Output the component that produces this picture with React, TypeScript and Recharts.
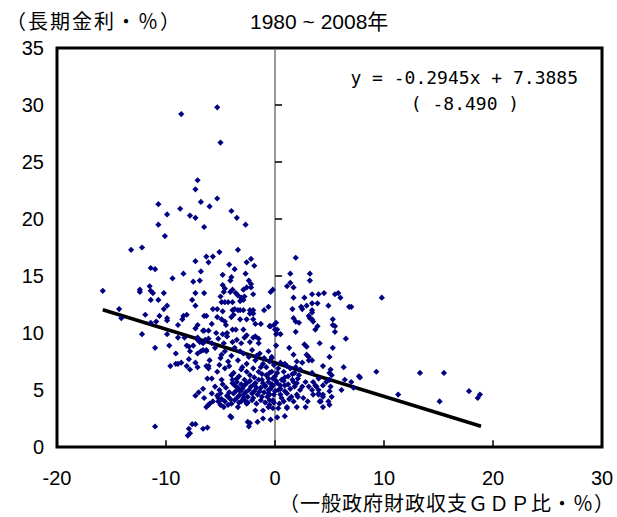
import {
  ReferenceArea,
  ReferenceLine,
  Scatter,
  ScatterChart,
  XAxis,
  YAxis,
  ZAxis,
} from "recharts";

// 1980～2008年, 長期金利 vs 一般政府財政収支GDP比
const xTicks = [-20, -10, 0, 10, 20, 30];
const yTicks = [0, 5, 10, 15, 20, 25, 30, 35];

// regression: y = -0.2945x + 7.3885 (t = -8.490)
const slope = -0.2945;
const intercept = 7.3885;
const fitRange = [-15.8, 18.9];

const highRates = [
  [-8.6, 29.2], [-5.3, 29.8], [-5.0, 26.7], [-7.1, 23.4], [-7.3, 22.6],
  [-10.7, 21.3], [-5.3, 21.8], [-6.8, 21.5], [-6.0, 21.1], [-8.7, 20.9],
  [-9.9, 20.4], [-4.0, 20.7], [-7.8, 20.3], [-7.3, 20.1], [-3.5, 20.1],
  [-10.7, 19.5], [-6.5, 19.3], [-2.7, 19.5], [-10.1, 18.5],
];

const leftDeficit = [
  [-13.2, 17.3], [-12.2, 17.5], [-6.3, 16.7], [-6.1, 16.2], [-7.3, 16.3],
  [-11.4, 15.7], [-11.0, 15.6], [-8.4, 15.2], [-6.8, 15.4], [-9.4, 14.8],
  [-6.9, 14.6], [-7.5, 14.5], [-11.5, 14.1], [-15.8, 13.7], [-12.4, 13.8],
  [-12.4, 13.6], [-11.4, 13.7], [-11.2, 13.5], [-10.2, 13.5], [-7.3, 13.5],
  [-6.5, 13.5], [-11.4, 12.9], [-10.7, 12.9], [-7.6, 12.9], [-7.3, 12.4],
  [-9.9, 12.4], [-10.2, 12.1], [-14.3, 12.1], [-14.1, 11.3], [-11.9, 11.6],
  [-10.6, 11.5], [-9.9, 11.3], [-9.9, 11.1], [-10.9, 11.0], [-8.4, 11.5],
  [-8.1, 11.6], [-8.5, 11.2], [-8.9, 10.7], [-6.5, 11.5], [-6.3, 11.5],
  [-7.1, 10.7], [-7.3, 10.4], [-6.6, 10.2], [-6.1, 10.2], [-12.2, 9.9],
  [-9.9, 9.9], [-8.9, 9.6], [-8.3, 9.6], [-7.1, 9.6], [-11.4, 10.9],
  [-11.0, 8.7], [-9.7, 8.9], [-8.1, 8.9], [-7.9, 8.8], [-7.5, 8.9],
  [-7.1, 9.4], [-6.9, 9.2], [-6.6, 9.1], [-6.4, 9.4], [-7.8, 8.4],
  [-9.1, 8.2], [-7.1, 8.2], [-6.8, 8.4], [-6.6, 8.5], [-6.3, 8.4],
  [-7.9, 7.7], [-9.6, 7.1], [-9.1, 7.3], [-8.9, 7.3], [-8.6, 7.4],
  [-8.1, 7.1], [-7.8, 6.8], [-7.3, 7.4], [-7.1, 7.0], [-6.3, 7.1],
  [-6.1, 7.1], [-6.2, 6.0], [-6.6, 5.1], [-7.0, 4.8], [-7.3, 4.5],
  [-6.5, 4.3], [-6.1, 3.7], [-11.0, 1.8], [-7.6, 2.0], [-7.3, 2.0],
  [-7.9, 1.6], [-7.8, 1.2], [-6.6, 1.6], [-6.2, 1.7], [-8.0, 1.0],
];

const midDeficit = [
  [-3.4, 17.3], [-5.1, 17.1], [-5.7, 16.7], [-2.6, 16.2], [-2.2, 16.5],
  [-4.2, 16.0], [-1.9, 15.9], [-3.7, 15.6], [-4.8, 15.1], [-2.7, 15.2],
  [-4.0, 14.9], [-4.1, 14.6], [-2.4, 14.6], [-2.2, 14.3], [-4.8, 14.2],
  [-4.7, 13.6], [-4.6, 13.9], [-4.1, 13.6], [-3.9, 13.8], [-3.6, 13.5],
  [-3.4, 13.3], [-2.9, 13.8], [-2.6, 14.0], [-2.2, 14.0], [-2.0, 13.4],
  [-3.1, 13.1], [-2.8, 13.2], [-3.2, 12.8], [-2.9, 12.9], [-5.0, 13.2],
  [-4.9, 12.7], [-4.6, 12.7], [-4.3, 12.7], [-3.9, 12.7], [-5.7, 12.1],
  [-5.3, 12.1], [-4.8, 11.9], [-3.9, 12.0], [-3.7, 12.1], [-3.4, 12.0],
  [-3.2, 12.0], [-2.9, 12.0], [-2.3, 12.0], [-2.0, 12.0], [-2.0, 11.7],
  [-2.3, 11.7], [-5.3, 11.4], [-4.9, 11.2], [-4.6, 11.0], [-4.0, 11.4],
  [-3.8, 11.6], [-3.2, 11.2], [-2.6, 11.2], [-2.0, 11.2], [-5.8, 10.8],
  [-4.5, 10.7], [-1.0, 12.0], [-0.6, 12.3], [-0.2, 13.8], [-0.4, 13.6],
  [-1.8, 10.8], [-1.3, 10.8], [-0.5, 10.6], [-3.9, 10.3], [-3.6, 10.3],
  [-2.9, 10.3], [-5.4, 10.0], [-4.8, 9.9], [-4.4, 10.0], [-6.5, 10.2],
  [-2.6, 9.8], [-2.0, 9.6], [-1.5, 9.5], [0.0, 10.3],
  [-6.1, 9.5], [-5.2, 9.5], [-4.4, 9.7], [-3.5, 9.4], [-2.8, 9.6],
  [-1.8, 9.7], [-5.8, 9.1], [-4.7, 9.1], [-3.9, 9.2], [-3.1, 9.1],
  [-2.3, 9.2], [-1.5, 9.1], [-6.3, 8.5], [-5.5, 8.7], [-4.6, 8.4],
  [-3.7, 8.7], [-2.9, 8.2], [-2.1, 8.5], [-1.4, 8.2], [-0.6, 8.4],
  [-0.3, 7.9], [-6.0, 7.6], [-5.0, 7.8], [-4.3, 7.5], [-3.4, 7.6],
  [-2.6, 7.3], [-1.8, 7.6], [-1.1, 7.3], [-0.5, 7.5], [-6.1, 6.9],
  [-5.3, 6.6], [-4.6, 6.9], [-3.8, 6.5], [-3.1, 6.8], [-2.3, 6.3],
  [-1.5, 6.6], [-0.8, 6.3], [-0.2, 6.0], [-5.8, 6.0], [-4.9, 5.9],
  [-2.8, 5.9], [-1.2, 5.9], [-3.5, 6.0],
];

const denseBand = [
  [-4.3, 4.4], [-3.8, 4.7], [-3.5, 4.3], [-3.2, 4.9], [-2.9, 4.6],
  [-2.8, 4.1], [-2.4, 5.0], [-2.1, 4.7], [-2.0, 4.3], [-1.7, 5.2],
  [-1.4, 4.9], [-1.2, 4.4], [-0.9, 5.3], [-0.6, 5.0], [-0.5, 4.6],
  [-0.2, 5.4], [0.0, 4.9], [-3.4, 5.2], [-4.6, 4.0], [-5.2, 4.3],
  [-3.7, 5.4], [-2.8, 5.4], [-1.8, 5.6], [-4.0, 3.8], [-3.1, 4.0],
  [-6.0, 3.8], [-5.0, 3.7], [-3.4, 3.5], [-2.6, 3.8], [-1.8, 3.2],
  [-1.1, 3.2], [-0.6, 3.5], [-0.2, 3.4], [-5.7, 4.0], [-5.2, 4.0],
  [-6.3, 3.5], [-4.7, 3.5], [-4.3, 3.7], [-5.8, 4.7], [-5.0, 4.7],
  [-4.0, 2.6], [-2.4, 1.8], [-2.3, 2.1], [-1.1, 2.5], [-0.4, 2.4],
  [-4.1, 2.7], [-2.5, 2.2], [-1.6, 2.2],
  [-0.8, 7.0], [-0.3, 6.6], [0.3, 6.9], [0.8, 6.6], [1.4, 6.9],
  [1.8, 6.5], [2.3, 6.8], [-0.6, 6.0], [0.0, 6.2], [0.6, 5.9],
  [1.2, 6.2], [1.7, 5.7], [2.1, 6.0], [2.8, 5.7], [-0.9, 5.4],
  [-0.3, 5.3], [0.2, 5.6], [0.5, 5.1], [0.9, 5.4], [1.4, 5.1],
  [1.8, 5.3], [2.3, 5.0], [-0.6, 4.7], [0.5, 4.6], [1.1, 4.7],
  [1.5, 4.4], [2.0, 4.6], [2.6, 4.3], [-0.2, 4.1], [0.8, 4.0],
  [1.1, 3.5], [0.3, 3.4], [-0.5, 4.1],
];

const denseCore = [
  [-4.5, 5.2], [-4.2, 4.8], [-3.9, 5.6], [-3.6, 4.9], [-3.3, 4.5],
  [-3.0, 5.1], [-2.7, 4.8], [-2.5, 4.4], [-2.2, 5.3], [-1.9, 4.9],
  [-1.6, 4.6], [-1.3, 5.2], [-1.0, 4.8], [-0.7, 4.4], [-0.4, 5.1],
  [-0.1, 4.6], [0.3, 5.0], [0.6, 4.3], [0.9, 4.9], [1.3, 4.2],
  [-4.4, 4.5], [-4.1, 4.2], [-3.7, 4.1], [-3.3, 3.9], [-2.9, 4.3],
  [-2.5, 3.9], [-2.1, 4.1], [-1.7, 3.8], [-1.3, 4.1], [-0.9, 3.9],
  [-0.5, 3.7], [-0.1, 3.9], [0.4, 3.8], [-3.9, 5.9], [-3.5, 5.7],
  [-3.1, 5.5], [-2.6, 5.6], [-2.3, 5.8], [-1.9, 5.5], [-1.5, 5.9],
  [-1.1, 5.6], [-0.6, 5.7], [-0.3, 5.5], [0.1, 5.8], [0.5, 5.4],
  [0.8, 5.8], [1.2, 5.5], [1.6, 5.9], [2.0, 5.6], [2.5, 5.3],
  [-5.5, 5.3], [-5.1, 5.0], [-4.8, 5.5], [-5.3, 4.5], [-4.9, 4.2],
  [-4.0, 6.3], [-3.3, 6.2], [-2.6, 6.6], [-1.9, 6.1], [-1.2, 6.4],
  [-0.5, 6.5], [0.2, 6.5], [0.9, 6.1], [1.6, 6.4], [2.2, 6.3],
  [-5.1, 7.2], [-4.2, 7.1], [-3.0, 7.0], [-2.0, 6.9], [-1.3, 7.0],
  [-0.1, 7.2], [1.1, 7.1], [1.9, 7.0], [-4.9, 8.1], [-4.0, 8.0],
  [-3.2, 8.4], [-2.4, 7.9], [-1.7, 8.0], [-1.0, 7.8],
];

const surplus = [
  [1.9, 16.6], [1.4, 15.2], [3.2, 15.2], [3.2, 14.6], [1.1, 14.1],
  [1.4, 14.4], [1.7, 14.0], [3.4, 13.4], [4.0, 13.4], [4.5, 13.5],
  [5.5, 13.4], [5.8, 13.5], [6.0, 13.1], [9.8, 13.1], [1.7, 13.1],
  [2.7, 13.1], [3.4, 12.6], [3.9, 12.6], [2.9, 12.4], [2.4, 12.3],
  [2.5, 12.1], [1.6, 12.1], [4.9, 12.4], [6.8, 12.3], [7.0, 12.3],
  [3.4, 12.0], [3.4, 11.8], [3.1, 11.5], [3.2, 11.3], [3.4, 11.2],
  [3.5, 11.0], [1.7, 11.3], [1.9, 11.0], [2.2, 10.9], [5.3, 11.2],
  [5.3, 10.7], [5.5, 10.6], [3.7, 10.3], [3.9, 10.6], [5.5, 10.1],
  [1.9, 10.1], [6.5, 9.5], [-0.1, 10.7], [-0.4, 10.6], [0.1, 10.9],
  [0.2, 10.3], [0.1, 9.9], [0.5, 9.9],
  [2.7, 9.0], [4.1, 9.1], [1.3, 8.7], [0.1, 8.9], [1.7, 8.1],
  [2.9, 8.1], [3.1, 7.9], [3.4, 7.6], [5.0, 7.9], [2.5, 7.4],
  [4.4, 7.1], [6.3, 7.0], [5.1, 6.8], [5.0, 6.5], [7.7, 6.2],
  [0.5, 7.4], [0.9, 7.3], [-0.3, 7.8], [6.4, 5.9], [7.0, 5.7],
  [5.1, 5.3], [6.1, 5.0], [5.2, 4.4], [5.0, 3.7], [4.0, 4.7],
  [4.4, 4.6], [4.2, 4.0], [3.5, 5.7], [3.8, 5.3], [3.4, 5.0],
  [3.0, 4.0], [2.8, 3.5], [2.1, 4.4], [1.1, 3.4], [0.9, 2.7],
  [0.2, 2.6], [1.7, 4.0], [2.0, 3.5], [2.9, 8.8], [5.3, 8.7],
  [3.1, 7.6], [2.0, 7.5], [3.7, 5.4], [4.0, 5.0], [3.5, 4.6],
  [4.0, 4.6], [4.4, 4.4], [3.1, 5.3], [4.4, 5.4], [4.7, 5.7],
  [5.0, 4.9], [4.1, 4.0], [4.9, 4.0], [4.4, 3.5], [5.0, 5.9],
  [5.2, 6.3], [4.0, 6.0], [3.4, 6.5],
  [7.8, 6.1], [9.3, 6.6], [13.3, 6.5], [15.5, 6.5], [7.2, 5.2],
  [11.3, 4.6], [15.1, 4.0], [17.8, 4.9], [18.8, 4.6], [18.6, 4.3],
];

const points = [
  ...highRates,
  ...leftDeficit,
  ...midDeficit,
  ...denseBand,
  ...denseCore,
  ...surplus,
].map(([x, y]) => ({ x, y }));

const Diamond = (props: any) => {
  const { cx, cy } = props;
  const r = 3.1;
  return (
    <path
      d={`M${cx},${cy - r}L${cx + r},${cy}L${cx},${cy + r}L${cx - r},${cy}Z`}
      fill="#000080"
    />
  );
};

const sans = "'Liberation Sans', Arial, sans-serif";
const jp = "'Noto Sans CJK JP', sans-serif";

export default function App() {
  return (
    <div style={{ position: "absolute", left: 0, top: 0, width: 617, height: 517, background: "#fff" }}>
      <ScatterChart
        width={617}
        height={517}
        margin={{ top: 48, right: 15, bottom: 30, left: 7 }}
      >
        <XAxis
          type="number"
          dataKey="x"
          domain={[-20, 30]}
          ticks={xTicks}
          axisLine={false}
          tickLine={false}
          tickSize={6}
          tickMargin={18}
          height={40}
          tick={{ fontSize: 20, fill: "#000", fontFamily: sans }}
        />
        <YAxis
          type="number"
          dataKey="y"
          domain={[0, 35]}
          ticks={yTicks}
          axisLine={false}
          tickLine={false}
          tickSize={6}
          tickMargin={7}
          width={50}
          tick={{ fontSize: 20, fill: "#000", fontFamily: sans }}
        />
        <ZAxis range={[30, 30]} />
        <ReferenceLine x={0} stroke="#333" strokeWidth={1} />
        {yTicks.slice(1, -1).map((t) => (
          <ReferenceLine
            key={`yt-${t}`}
            segment={[{ x: 0, y: t }, { x: 0.65, y: t }]}
            stroke="#000"
            strokeWidth={1.5}
          />
        ))}
        {xTicks.slice(1, -1).map((t) => (
          <ReferenceLine
            key={`xt-${t}`}
            segment={[{ x: t, y: 0 }, { x: t, y: 0.6 }]}
            stroke="#000"
            strokeWidth={1.5}
          />
        ))}
        <Scatter data={points} shape={Diamond} isAnimationActive={false} />
        <ReferenceLine
          segment={[
            { x: fitRange[0], y: intercept + slope * fitRange[0] },
            { x: fitRange[1], y: intercept + slope * fitRange[1] },
          ]}
          stroke="#000"
          strokeWidth={3.5}
        />
        <ReferenceArea
          x1={-20}
          x2={30}
          y1={0}
          y2={35}
          fill="none"
          fillOpacity={0}
          stroke="#000"
          strokeWidth={3}
        />
      </ScatterChart>
      <svg
        width={617}
        height={517}
        style={{ position: "absolute", left: 0, top: 0, pointerEvents: "none" }}
      >
        <text x={6} y={29} fontSize={20} letterSpacing={2} fontFamily={jp} fill="#000">
          （長期金利・％）
        </text>
        <text x={250} y={29} fontSize={21} fontFamily={`${sans}, ${jp}`} fill="#000">
          1980 ~ 2008年
        </text>
        <text
          x={578}
          y={84}
          textAnchor="end"
          fontSize={18}
          fontFamily="'DejaVu Sans Mono', monospace"
          fill="#000"
        >
          y = -0.2945x + 7.3885
        </text>
        <text
          x={465}
          y={110}
          textAnchor="middle"
          fontSize={18}
          fontFamily="'DejaVu Sans Mono', monospace"
          fill="#000"
          style={{ whiteSpace: "pre" }}
        >
          {"( -8.490 )"}
        </text>
        <text
          x={615}
          y={511}
          textAnchor="end"
          fontSize={20}
          letterSpacing={1}
          fontFamily={jp}
          fill="#000"
        >
          （一般政府財政収支ＧＤＰ比・％）
        </text>
      </svg>
    </div>
  );
}
